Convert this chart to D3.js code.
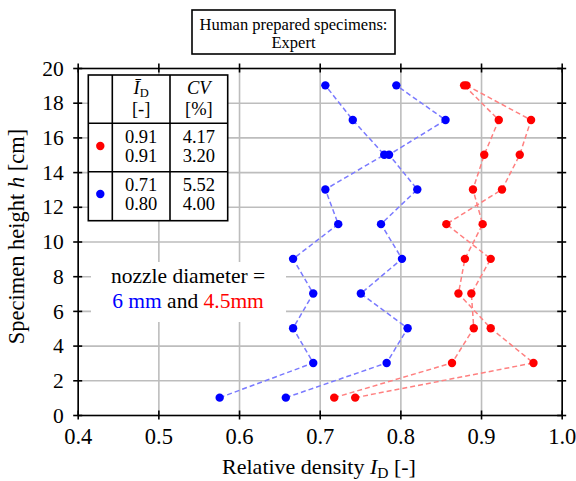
<!DOCTYPE html>
<html>
<head>
<meta charset="utf-8">
<script src="https://cdn.jsdelivr.net/npm/d3@7"></script>
<style>
  html, body { margin: 0; padding: 0; background: #fff; }
  svg, svg text { font-family: "Liberation Serif", "Tinos", "Times New Roman", Times, "DejaVu Serif", serif; }
</style>
</head>
<body>
<svg id="chart" width="576" height="481"></svg>
<script>
// Specimen heights (cm) at which density was measured
const heights = [1, 3, 5, 7, 9, 11, 13, 15, 17, 19];

// Relative density I_D, 6 mm nozzle (two specimens)
const blue1 = [0.576, 0.692, 0.667, 0.692, 0.667, 0.723, 0.707, 0.780, 0.741, 0.707];
const blue2 = [0.658, 0.783, 0.809, 0.751, 0.802, 0.776, 0.821, 0.786, 0.856, 0.795];

// Relative density I_D, 4.5 mm nozzle (two specimens)
const red1 = [0.744, 0.965, 0.912, 0.872, 0.880, 0.902, 0.890, 0.904, 0.922, 0.879];
const red2 = [0.718, 0.864, 0.891, 0.888, 0.912, 0.857, 0.926, 0.948, 0.962, 0.882];

// Axis ticks
const xTicks = [0.4, 0.5, 0.6, 0.7, 0.8, 0.9, 1.0];
const yTicks = [0, 2, 4, 6, 8, 10, 12, 14, 16, 18, 20];

// Summary table: mean I_D and coefficient of variation per nozzle
const tableMean = [["0.91", "0.91"], ["0.71", "0.80"]];
const tableCV = [["4.17", "3.20"], ["5.52", "4.00"]];

const BLUE = "#0000ff", RED = "#ff0000";
const BLUE_LINE = "#7a7aff", RED_LINE = "#ff8080";
const SERIF = '"Liberation Serif", "Tinos", "Times New Roman", Times, "DejaVu Serif", serif';

const svg = d3.select("#chart");
const L = 77.7, R = 561.7, T = 68, B = 415;

const x = d3.scaleLinear().domain([0.4, 1.0]).range([L, R]);
const y = d3.scaleLinear().domain([0, 20]).range([B, T]);

// Grid
svg.append("g")
  .attr("transform", `translate(0,${B})`)
  .call(d3.axisBottom(x).tickValues(xTicks).tickSize(-(B - T)).tickFormat(""))
  .call(g => g.select(".domain").remove())
  .call(g => g.selectAll("line").attr("stroke", "#bdbdbd").attr("stroke-width", 1.6));
svg.append("g")
  .attr("transform", `translate(${L},0)`)
  .call(d3.axisLeft(y).tickValues(yTicks).tickSize(-(R - L)).tickFormat(""))
  .call(g => g.select(".domain").remove())
  .call(g => g.selectAll("line").attr("stroke", "#bdbdbd").attr("stroke-width", 1.6));

// Axes with ticks that cross the frame
function crossX(g) {
  g.select(".domain").attr("stroke", "#000").attr("stroke-width", 1.6);
  g.selectAll(".tick line").attr("y1", -4.5).attr("y2", 4.5).attr("stroke", "#000").attr("stroke-width", 1.6);
}
function crossY(g) {
  g.select(".domain").attr("stroke", "#000").attr("stroke-width", 1.6);
  g.selectAll(".tick line").attr("x1", -4.5).attr("x2", 4.5).attr("stroke", "#000").attr("stroke-width", 1.6);
}

svg.append("g").attr("transform", `translate(0,${B})`)
  .call(d3.axisBottom(x).tickValues(xTicks).tickSizeOuter(0).tickFormat(d3.format(".1f")))
  .call(crossX)
  .call(g => g.selectAll(".tick text").attr("y", 28.5).attr("dy", 0)
    .attr("font-size", 22.5).attr("font-family", SERIF).attr("fill", "#000"));
svg.append("g").attr("transform", `translate(0,${T})`)
  .call(d3.axisTop(x).tickValues(xTicks).tickSizeOuter(0).tickFormat(""))
  .call(crossX);
svg.append("g").attr("transform", `translate(${L},0)`)
  .call(d3.axisLeft(y).tickValues(yTicks).tickSizeOuter(0).tickFormat(d3.format("d")))
  .call(crossY)
  .call(g => g.selectAll(".tick text").attr("x", -14).attr("dy", "0.33em")
    .attr("font-size", 21.5).attr("font-family", SERIF).attr("fill", "#000"));
svg.append("g").attr("transform", `translate(${R},0)`)
  .call(d3.axisRight(y).tickValues(yTicks).tickSizeOuter(0).tickFormat(""))
  .call(crossY);

// Series
const series = [
  { v: blue1, line: BLUE_LINE, dot: BLUE },
  { v: blue2, line: BLUE_LINE, dot: BLUE },
  { v: red1, line: RED_LINE, dot: RED },
  { v: red2, line: RED_LINE, dot: RED }
];
const lineGen = d3.line().x(d => x(d[0])).y(d => y(d[1]));
series.forEach(s => {
  const pts = s.v.map((v, i) => [v, heights[i]]);
  svg.append("path").datum(pts)
    .attr("d", lineGen).attr("fill", "none")
    .attr("stroke", s.line).attr("stroke-width", 1.5)
    .attr("stroke-dasharray", "5,3");
});
series.forEach(s => {
  svg.append("g").selectAll("circle")
    .data(s.v.map((v, i) => [v, heights[i]]))
    .join("circle")
    .attr("cx", d => x(d[0])).attr("cy", d => y(d[1]))
    .attr("r", 4.2).attr("fill", s.dot);
});

// Summary table
const tb = svg.append("g").attr("font-family", SERIF);
const tx0 = 88.3, tx1 = 112.3, tx2 = 170, tx3 = 227.7;
const ty0 = 75, ty1 = 123.3, ty2 = 171.7, ty3 = 220.7;
tb.append("rect").attr("x", tx0).attr("y", ty0).attr("width", tx3 - tx0).attr("height", ty3 - ty0)
  .attr("fill", "#fff").attr("stroke", "#000").attr("stroke-width", 1.6);
[[tx1, ty0, tx1, ty3], [tx2, ty0, tx2, ty3], [tx0, ty1, tx3, ty1], [tx0, ty2, tx3, ty2]]
  .forEach(l => tb.append("line").attr("x1", l[0]).attr("y1", l[1]).attr("x2", l[2]).attr("y2", l[3])
    .attr("stroke", "#000").attr("stroke-width", 1.6));
const c2 = (tx1 + tx2) / 2, c3 = (tx2 + tx3) / 2;
const hdr1 = tb.append("text").attr("x", c2).attr("y", 94).attr("text-anchor", "middle").attr("font-size", 18.5);
hdr1.append("tspan").attr("font-style", "italic").text("Ī");
hdr1.append("tspan").attr("font-size", 12.5).attr("dy", 3).text("D");
tb.append("text").attr("x", c2).attr("y", 115).attr("text-anchor", "middle").attr("font-size", 18.5).text("[-]");
tb.append("text").attr("x", c3).attr("y", 94).attr("text-anchor", "middle").attr("font-size", 18.5)
  .attr("font-style", "italic").text("CV");
tb.append("text").attr("x", c3).attr("y", 115).attr("text-anchor", "middle").attr("font-size", 18.5).text("[%]");
const rowBase = [[142.5, 161.5], [190.5, 209.5]];
const rowDot = [RED, BLUE];
tableMean.forEach((row, r) => {
  row.forEach((val, k) => {
    tb.append("text").attr("x", c2).attr("y", rowBase[r][k]).attr("text-anchor", "middle")
      .attr("font-size", 18.5).text(val);
    tb.append("text").attr("x", c3).attr("y", rowBase[r][k]).attr("text-anchor", "middle")
      .attr("font-size", 18.5).text(tableCV[r][k]);
  });
  tb.append("circle").attr("cx", (tx0 + tx1) / 2).attr("cy", (rowBase[r][0] + rowBase[r][1]) / 2 - 6)
    .attr("r", 4.2).attr("fill", rowDot[r]);
});

// Nozzle diameter note
svg.append("rect").attr("x", 91).attr("y", 262).attr("width", 195).attr("height", 60).attr("fill", "#fff");
svg.append("text").attr("x", 188).attr("y", 283).attr("text-anchor", "middle").attr("font-size", 21.5)
  .text("nozzle diameter =");
const note2 = svg.append("text").attr("x", 188).attr("y", 308).attr("text-anchor", "middle").attr("font-size", 21.5);
note2.append("tspan").attr("fill", BLUE).text("6 mm");
note2.append("tspan").attr("fill", "#000").text(" and ");
note2.append("tspan").attr("fill", RED).text("4.5mm");

// Title box
svg.append("rect").attr("x", 192).attr("y", 10).attr("width", 203).attr("height", 44)
  .attr("fill", "#fff").attr("stroke", "#000").attr("stroke-width", 1.6);
svg.append("text").attr("x", 293.5).attr("y", 30).attr("text-anchor", "middle").attr("font-size", 16.5)
  .text("Human prepared specimens:");
svg.append("text").attr("x", 293.5).attr("y", 48).attr("text-anchor", "middle").attr("font-size", 16.5)
  .text("Expert");

// Axis titles
const xt = svg.append("text").attr("x", 319).attr("y", 474).attr("text-anchor", "middle").attr("font-size", 22);
xt.append("tspan").text("Relative density ");
xt.append("tspan").attr("font-style", "italic").text("I");
xt.append("tspan").attr("font-size", 15.5).attr("dy", 4).text("D");
xt.append("tspan").attr("dy", -4).text(" [-]");

const yt = svg.append("text").attr("transform", "translate(24,236.5) rotate(-90)")
  .attr("text-anchor", "middle").attr("font-size", 22.5);
yt.append("tspan").text("Specimen height ");
yt.append("tspan").attr("font-style", "italic").text("h");
yt.append("tspan").text(" [cm]");
</script>
</body>
</html>
